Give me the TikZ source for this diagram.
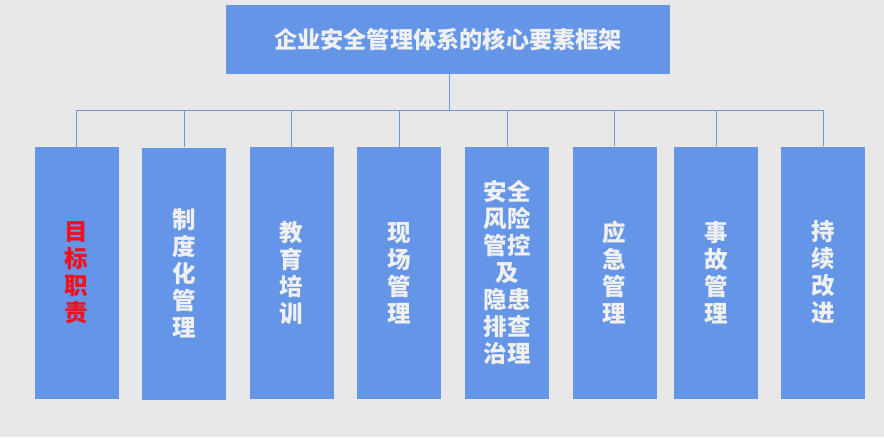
\documentclass[tikz,border=0pt]{standalone}
\usepackage{fontspec}
\newfontfamily\cjk{Noto Sans CJK SC}
\definecolor{bg}{HTML}{E8E8E8}
\definecolor{boxblue}{HTML}{6495E6}
\definecolor{linkblue}{HTML}{6E96DA}
\definecolor{txt}{HTML}{F0F0F0}
\definecolor{redtxt}{HTML}{F0101E}
\begin{document}
\begin{tikzpicture}[x=1pt,y=-1pt,
  titlebox/.style={fill=boxblue,draw=none,minimum width=444pt,minimum height=69pt,inner sep=0pt,
    font=\cjk\bfseries\fontsize{23.2}{27}\selectfont,text=txt},
  itembox/.style={fill=boxblue,draw=none,minimum width=84pt,minimum height=252pt,inner sep=0pt,
    align=center,font=\cjk\bfseries\fontsize{23.5}{27}\selectfont,text=txt},
  link/.style={draw=linkblue,line width=0.9pt}]
\fill[bg] (0,0) rectangle (884,437);
\useasboundingbox (0,0) rectangle (884,437);
\node[titlebox] (top) at (448,39.5) {企业安全管理体系的核心要素框架};
\node[itembox,text=redtxt] (c1) at (76.5,273) {目\\标\\职\\责};
\node[itembox] (c2) at (184,273.5) {制\\度\\化\\管\\理};
\node[itembox] (c3) at (291.5,273) {教\\育\\培\\训};
\node[itembox] (c4) at (399,273) {现\\场\\管\\理};
\node[itembox] (c5) at (507,272.5) {安全\\风险\\管控\\及\\隐患\\排查\\治理};
\node[itembox] (c6) at (614.5,272.5) {应\\急\\管\\理};
\node[itembox] (c7) at (716,272.5) {事\\故\\管\\理};
\node[itembox] (c8) at (823,272.5) {持\\续\\改\\进};
\coordinate (bus) at (449,110);
\draw[link] (top.south -| bus) -- (bus);
\draw[link] (c1.north) |- (bus);
\draw[link] (c8.north) |- (bus);
\foreach \i in {2,...,7}{\draw[link] (c\i.north) -- (c\i.north |- bus);}
\end{tikzpicture}
\end{document}
